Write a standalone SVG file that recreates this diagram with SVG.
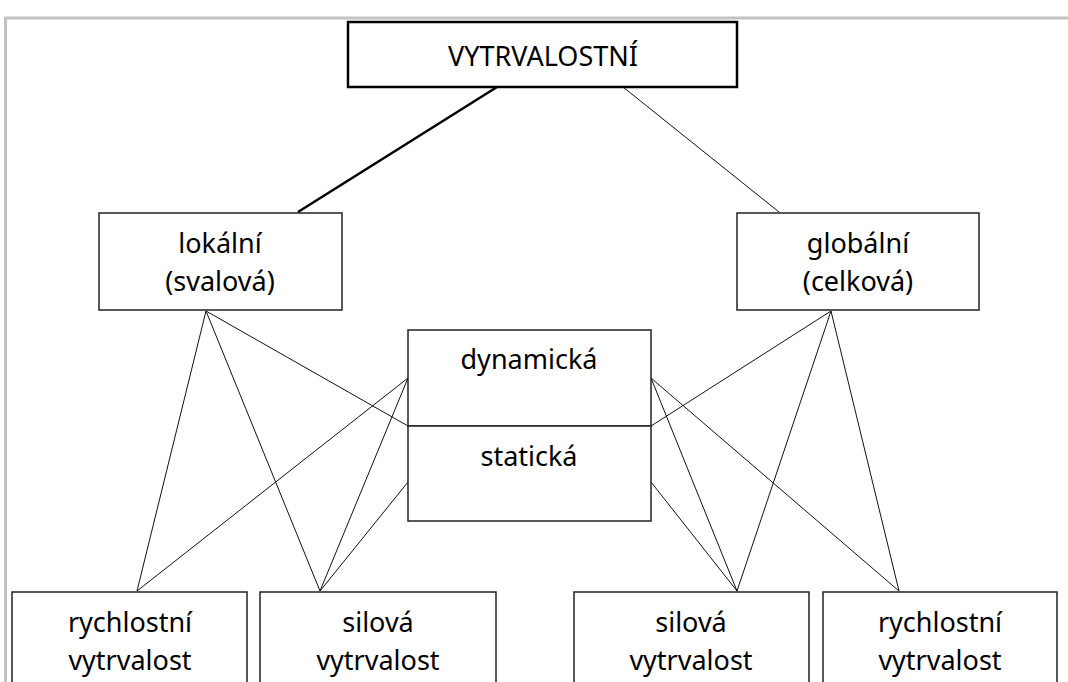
<svg xmlns="http://www.w3.org/2000/svg" width="1068" height="682" viewBox="0 0 1068 682">
<style>
.box{fill:#fff;stroke:#222;stroke-width:1.5}
.t{font-family:"Noto Sans","Open Sans",sans-serif;font-size:27px;fill:#000;text-anchor:middle}
.c{stroke:#111;stroke-width:1;fill:none}
</style>
<rect x="0" y="0" width="1068" height="682" fill="#fff"/>
<path d="M5.5 682 V18 H1068" fill="none" stroke="#c3c3c3" stroke-width="3"/>
<g id="connectors">
<line x1="497" y1="87" x2="298" y2="212" stroke="#000" stroke-width="2.5"/>
<line class="c" x1="623" y1="87" x2="779" y2="212"/>
<line class="c" x1="206" y1="311" x2="137" y2="591"/>
<line class="c" x1="206" y1="311" x2="320" y2="591"/>
<line class="c" x1="206" y1="311" x2="408" y2="426"/>
<line class="c" x1="408" y1="378" x2="137" y2="591"/>
<line class="c" x1="408" y1="378" x2="320" y2="591"/>
<line class="c" x1="408" y1="482" x2="320" y2="591"/>
<line class="c" x1="831" y1="311" x2="737" y2="591"/>
<line class="c" x1="831" y1="311" x2="899" y2="591"/>
<line class="c" x1="831" y1="311" x2="651" y2="426"/>
<line class="c" x1="651" y1="378" x2="737" y2="591"/>
<line class="c" x1="651" y1="378" x2="899" y2="591"/>
<line class="c" x1="651" y1="482" x2="737" y2="591"/>
</g>
<g id="top">
<rect x="348" y="22" width="389" height="65" fill="#fff" stroke="#000" stroke-width="2.5"/>
<text class="t" x="543" y="66">VYTRVALOSTNÍ</text>
</g>
<g id="lokalni">
<rect class="box" x="99" y="213" width="243" height="97"/>
<text class="t" x="220" y="253">lokální</text>
<text class="t" x="220" y="291">(svalová)</text>
</g>
<g id="globalni">
<rect class="box" x="737" y="213" width="242" height="97"/>
<text class="t" x="858" y="253">globální</text>
<text class="t" x="858" y="291">(celková)</text>
</g>
<g id="dynamicka">
<rect class="box" x="408" y="330" width="243" height="96"/>
<text class="t" x="529" y="369">dynamická</text>
</g>
<g id="staticka">
<rect class="box" x="408" y="426" width="243" height="95"/>
<text class="t" x="529" y="466">statická</text>
</g>
<g id="b1">
<rect class="box" x="12" y="592" width="235" height="110"/>
<text class="t" x="130" y="632">rychlostní</text>
<text class="t" x="130" y="670">vytrvalost</text>
</g>
<g id="b2">
<rect class="box" x="260" y="592" width="236" height="110"/>
<text class="t" x="378" y="632">silová</text>
<text class="t" x="378" y="670">vytrvalost</text>
</g>
<g id="b3">
<rect class="box" x="574" y="592" width="235" height="110"/>
<text class="t" x="691" y="632">silová</text>
<text class="t" x="691" y="670">vytrvalost</text>
</g>
<g id="b4">
<rect class="box" x="823" y="592" width="234" height="110"/>
<text class="t" x="940" y="632">rychlostní</text>
<text class="t" x="940" y="670">vytrvalost</text>
</g>
</svg>
